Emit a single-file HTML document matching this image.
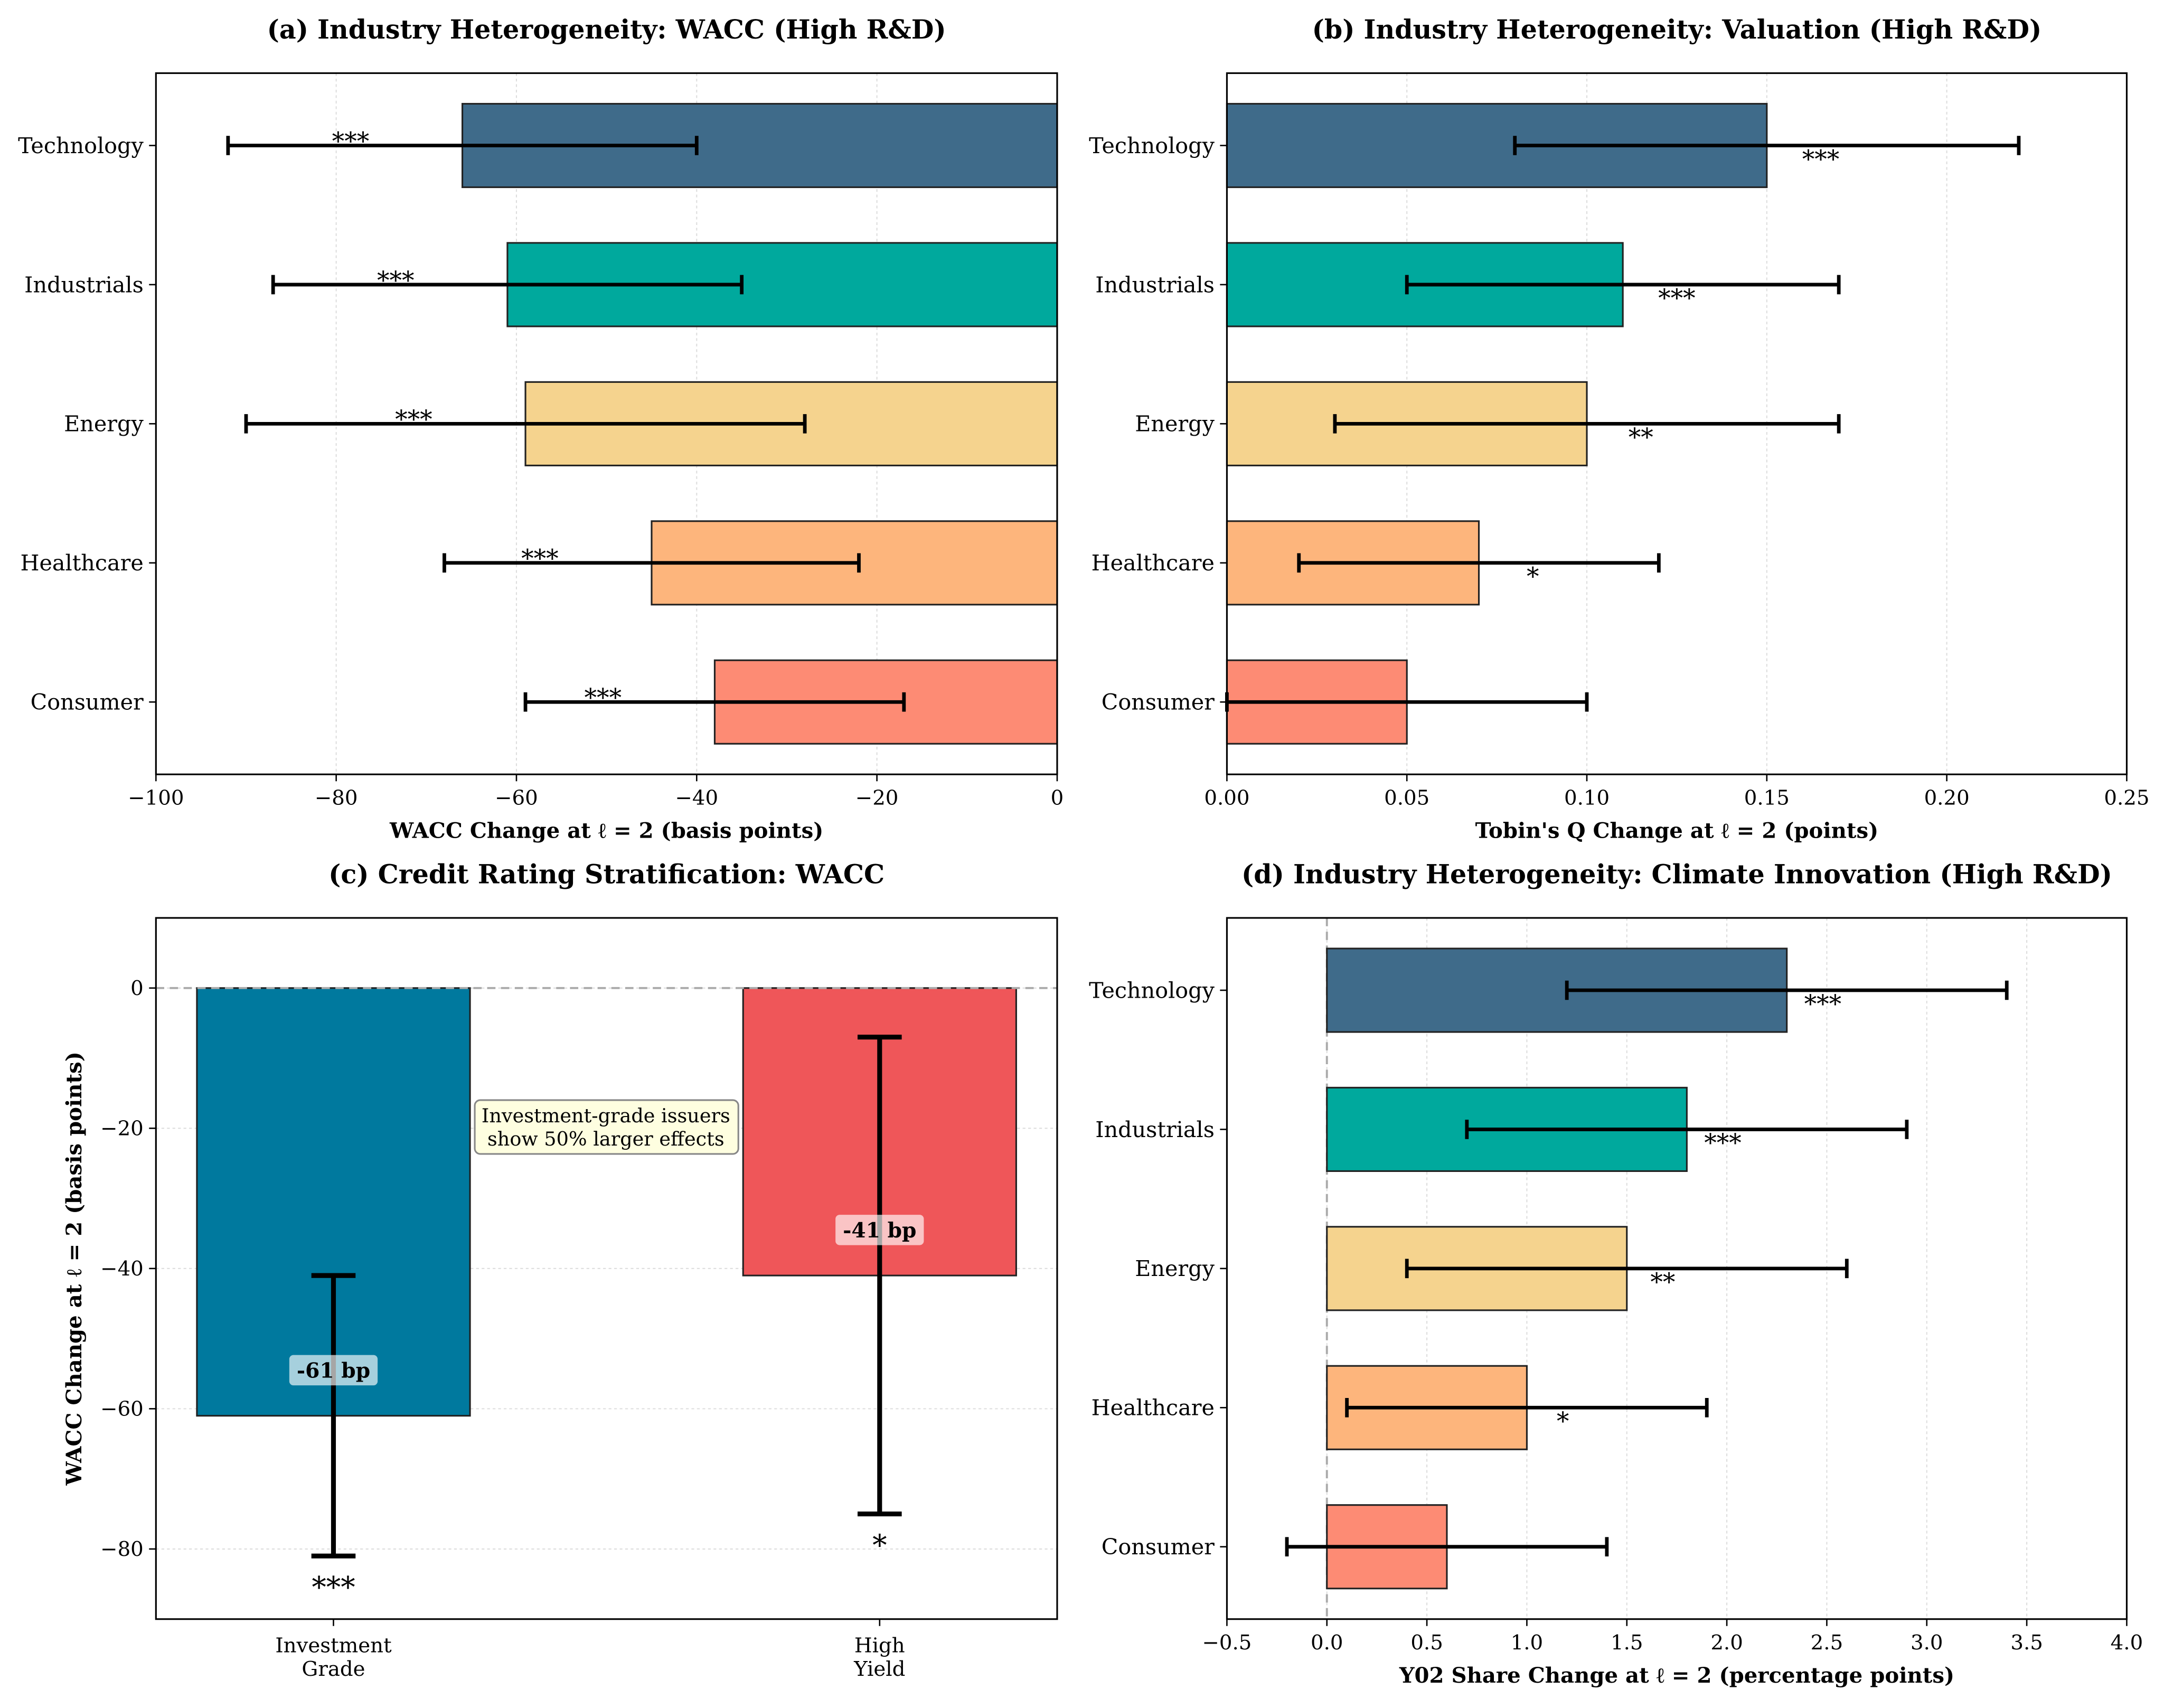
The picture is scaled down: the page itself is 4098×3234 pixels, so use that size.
<!DOCTYPE html>
<html><head><meta charset="utf-8"><style>
html,body{margin:0;padding:0;background:#fff;}
svg{display:block;font-family:"DejaVu Serif","Liberation Serif",serif;}
</style></head><body>
<svg id="fig" width="4098" height="3234" viewBox="0 0 1568 1237.4" preserveAspectRatio="none" xmlns="http://www.w3.org/2000/svg"></svg>
<script>
const categories = ["Technology","Industrials","Energy","Healthcare","Consumer"];
const colors = ["#3f6b8a","#00a99d","#f5d38e","#fdb57c","#fd8b74"];
const waccMean = [-66,-61,-59,-45,-38];
const waccLo = [-92,-87,-90,-68,-59];
const waccHi = [-40,-35,-28,-22,-17];
const waccStars = ["***","***","***","***","***"];
const waccTicks = [-100,-80,-60,-40,-20,0];
const qMean = [0.15,0.11,0.10,0.07,0.05];
const qLo = [0.08,0.05,0.03,0.02,0.00];
const qHi = [0.22,0.17,0.17,0.12,0.10];
const qStars = ["***","***","**","*",""];
const qTicks = [0,0.05,0.10,0.15,0.20,0.25];
const ciMean = [2.3,1.8,1.5,1.0,0.6];
const ciLo = [1.2,0.7,0.4,0.1,-0.2];
const ciHi = [3.4,2.9,2.6,1.9,1.4];
const ciStars = ["***","***","**","*",""];
const ciTicks = [-0.5,0,0.5,1.0,1.5,2.0,2.5,3.0,3.5,4.0];
const crCats = ["Investment|Grade","High|Yield"];
const crMean = [-61,-41];
const crLo = [-81,-75];
const crHi = [-41,-7];
const crStars = ["***","*"];
const crLabels = ["-61 bp","-41 bp"];
const crTicks = [0,-20,-40,-60,-80];

const svg = document.getElementById('fig');
const NS = "http://www.w3.org/2000/svg";
function el(tag, attrs, parent, text){
  const e = document.createElementNS(NS, tag);
  for (const k in attrs) e.setAttribute(k, attrs[k]);
  if (text !== undefined) e.textContent = text;
  (parent||svg).appendChild(e);
  return e;
}
const TICK = 14.8, CAT = 15.8, TITLE = 18.8, AXL = 15.4;

function hpanel(id, L, R, T, B, xmin, xmax, ticks, fmt, means, lo, hi, stars, starOff, starDy, title, xlabel, zeroLine){
  const g = el('g', {});
  
  
  const sx = v => L + (v - xmin) / (xmax - xmin) * (R - L);
  const step = (B - T) / 5.04;
  const sy = i => T + (i + 0.52) * step;
  ticks.forEach(t => {
    const gl = el('line', {x1:sx(t),x2:sx(t),y1:T,y2:B,stroke:'#ddd','stroke-width':0.8,'stroke-dasharray':'2,2'}, g);
    
    
  });
  if (zeroLine) {
    const z = el('line', {x1:sx(0),x2:sx(0),y1:T,y2:B,stroke:'#aaa','stroke-width':1.5,'stroke-dasharray':'6,4'}, g);
    
    
  }
  const bh = step * 0.6;
  categories.forEach((c, i) => {
    const y = sy(i);
    const x0 = sx(Math.min(0, means[i])), x1 = sx(Math.max(0, means[i]));
    const b = el('rect', {x:x0,y:y-bh/2,width:x1-x0,height:bh,fill:colors[i],stroke:'#222','stroke-width':1.2}, g);
    
    
    const eg = el('g', {stroke:'#000','stroke-width':2.6}, g);
    
    
    el('line', {x1:sx(lo[i]),x2:sx(hi[i]),y1:y,y2:y}, eg);
    el('line', {x1:sx(lo[i]),x2:sx(lo[i]),y1:y-7,y2:y+7}, eg);
    el('line', {x1:sx(hi[i]),x2:sx(hi[i]),y1:y-7,y2:y+7}, eg);
    if (stars[i]) {
      const s = el('text', {x:sx(means[i]+starOff),y:y+starDy,'text-anchor':'middle','font-size':18,fill:'#000'}, g, stars[i]);
      
      
    }
    el('line', {x1:L-5,x2:L,y1:y,y2:y,stroke:'#000','stroke-width':1}, g);
    const tl = el('text', {x:L-9,y:y+5.5,'text-anchor':'end','font-size':CAT}, g, c);
    
    
  });
  ticks.forEach(t => {
    el('line', {x1:sx(t),x2:sx(t),y1:B,y2:B+5,stroke:'#000','stroke-width':1}, g);
    const tl = el('text', {x:sx(t),y:B+22,'text-anchor':'middle','font-size':TICK}, g, fmt(t));
    
    
  });
  const fr = el('rect', {x:L,y:T,width:R-L,height:B-T,fill:'none',stroke:'#000','stroke-width':1.2}, g);
  
  
  const ti = el('text', {x:(L+R)/2,y:T-25,'text-anchor':'middle','font-size':TITLE,'font-weight':'bold'}, g, title);
  
  
  const xl = el('text', {x:(L+R)/2,y:B+46,'text-anchor':'middle','font-size':AXL,'font-weight':'bold'}, g, xlabel);
  
  
}
const minus = s => s.replace('-', '\u2212');
hpanel('panel-a-wacc', 113, 766, 53, 561, -100, 0, waccTicks, t => minus(String(t)), waccMean, waccLo, waccHi, waccStars, -12.4, 3,
  '(a) Industry Heterogeneity: WACC (High R&D)', 'WACC Change at \u2113 = 2 (basis points)', false);
hpanel('panel-b-valuation', 889, 1541, 53, 561, 0, 0.25, qTicks, t => t.toFixed(2), qMean, qLo, qHi, qStars, 0.015, 16,
  '(b) Industry Heterogeneity: Valuation (High R&D)', "Tobin's Q Change at \u2113 = 2 (points)", false);
hpanel('panel-d-climate', 889, 1541, 665, 1173, -0.5, 4.0, ciTicks, t => minus(t.toFixed(1)), ciMean, ciLo, ciHi, ciStars, 0.18, 16,
  '(d) Industry Heterogeneity: Climate Innovation (High R&D)', 'Y02 Share Change at \u2113 = 2 (percentage points)', true);

// panel c
(function(){
  const L=113,R=766,T=665,B=1173, ymin=-90, ymax=10, xmin=-0.325, xmax=1.325;
  const g = el('g', {});
  
  
  const sx = v => L + (v - xmin)/(xmax-xmin)*(R-L);
  const sy = v => T + (ymax - v)/(ymax-ymin)*(B-T);
  crTicks.forEach(t => {
    const gl = el('line', {x1:L,x2:R,y1:sy(t),y2:sy(t),stroke:'#ddd','stroke-width':0.8,'stroke-dasharray':'2,2'}, g);
    
    
    el('line', {x1:L-5,x2:L,y1:sy(t),y2:sy(t),stroke:'#000','stroke-width':1}, g);
    const tl = el('text', {x:L-9,y:sy(t)+5,'text-anchor':'end','font-size':TICK}, g, minus(String(t)));
    
    
  });
  const cc = ['#00799e','#ef5659'];
  crMean.forEach((m,i) => {
    const x = sx(i), w = sx(0.25)-sx(0);
    const b = el('rect', {x:x-w,y:sy(0),width:2*w,height:sy(m)-sy(0),fill:cc[i],stroke:'#222','stroke-width':1.2}, g);
    
    
  });
  const z = el('line', {x1:L,x2:R,y1:sy(0),y2:sy(0),stroke:'#aaa','stroke-width':1.5,'stroke-dasharray':'6,4'}, g);
  
  
  crMean.forEach((m,i) => {
    const x = sx(i);
    const eg = el('g', {stroke:'#000','stroke-width':3.5}, g);
    
    
    el('line', {x1:x,x2:x,y1:sy(crLo[i]),y2:sy(crHi[i])}, eg);
    el('line', {x1:x-16,x2:x+16,y1:sy(crLo[i]),y2:sy(crLo[i])}, eg);
    el('line', {x1:x-16,x2:x+16,y1:sy(crHi[i]),y2:sy(crHi[i])}, eg);
    const ly = sy(m + 6.5);
    const bg = el('rect', {x:x-32,y:ly-11,width:64,height:22,rx:3,fill:'rgba(255,255,255,0.65)'}, g);
    
    
    const lt = el('text', {x:x,y:ly+5.5,'text-anchor':'middle','font-size':15,'font-weight':'bold'}, g, crLabels[i]);
    
    
    const st = el('text', {x:x,y:sy(crLo[i])+30,'text-anchor':'middle','font-size':21}, g, crStars[i]);
    
    
    el('line', {x1:x,x2:x,y1:B,y2:B+5,stroke:'#000','stroke-width':1}, g);
    crCats[i].split('|').forEach((p,j) => {
      const tl = el('text', {x:x,y:B+24+j*17,'text-anchor':'middle','font-size':TICK}, g, p);
      
      
    });
  });
  const ab = el('rect', {x:344,y:797,width:191,height:39,rx:4,fill:'#fefee0',stroke:'#888','stroke-width':1.2}, g);
  
  
  const a1 = el('text', {x:439,y:813,'text-anchor':'middle','font-size':14}, g, 'Investment-grade issuers');
  
  
  const a2 = el('text', {x:439,y:830,'text-anchor':'middle','font-size':14}, g, 'show 50% larger effects');
  
  
  const fr = el('rect', {x:L,y:T,width:R-L,height:B-T,fill:'none',stroke:'#000','stroke-width':1.2}, g);
  
  
  const ti = el('text', {x:(L+R)/2,y:T-25,'text-anchor':'middle','font-size':TITLE,'font-weight':'bold'}, g, '(c) Credit Rating Stratification: WACC');
  
  
  const yl = el('text', {x:0,y:0,'text-anchor':'middle','font-size':AXL,'font-weight':'bold',transform:'translate(59,919) rotate(-90)'}, g, 'WACC Change at \u2113 = 2 (basis points)');
  
  
})();
</script>
</body></html>
